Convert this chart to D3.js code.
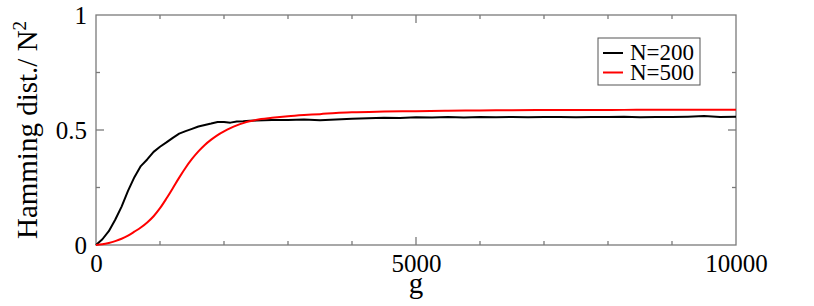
<!DOCTYPE html>
<html>
<head>
<meta charset="utf-8">
<script src="https://cdn.jsdelivr.net/npm/d3@7"></script>
<style>
  body { margin: 0; background: #fff; }
  svg text { font-family: "Liberation Serif", "Times New Roman", Times, serif; }
</style>
</head>
<body>
<script>
// series
var gen200 = [0, 100, 200, 300, 400, 500, 600, 700, 800, 900, 1000, 1100, 1200, 1300, 1400, 1500,
  1600, 1700, 1800, 1900, 2000, 2100, 2200, 2300, 2400, 2500, 2750, 3000, 3250, 3500, 3750, 4000,
  4250, 4500, 4750, 5000, 5250, 5500, 5750, 6000, 6250, 6500, 6750, 7000, 7250, 7500, 7750, 8000,
  8250, 8500, 8750, 9000, 9250, 9500, 9750, 10000];
var ham200 = [0, 0.025, 0.06, 0.11, 0.167, 0.235, 0.295, 0.343, 0.372, 0.405, 0.427, 0.446, 0.466, 0.484, 0.495, 0.505,
  0.515, 0.522, 0.528, 0.535, 0.535, 0.532, 0.537, 0.538, 0.540, 0.541, 0.543, 0.544, 0.546, 0.542, 0.546, 0.549,
  0.551, 0.553, 0.552, 0.555, 0.554, 0.556, 0.554, 0.556, 0.555, 0.557, 0.555, 0.556, 0.557, 0.555, 0.557, 0.556,
  0.558, 0.555, 0.557, 0.556, 0.558, 0.561, 0.557, 0.558];

var gen500 = [0, 100, 200, 300, 400, 500, 600, 700, 800, 900, 1000, 1100, 1200, 1300, 1400, 1500,
  1600, 1700, 1800, 1900, 2000, 2100, 2200, 2300, 2400, 2500, 2750, 3000, 3250, 3500, 3750, 4000,
  4500, 5000, 5500, 6000, 6500, 7000, 7500, 8000, 8500, 9000, 9500, 10000];
var ham500 = [0, 0.003, 0.009, 0.017, 0.027, 0.041, 0.058, 0.076, 0.098, 0.125, 0.16, 0.202, 0.247, 0.293, 0.336, 0.374,
  0.407, 0.435, 0.458, 0.478, 0.494, 0.508, 0.52, 0.53, 0.538, 0.544, 0.553, 0.56, 0.565, 0.569, 0.574, 0.577,
  0.58, 0.582, 0.584, 0.585, 0.586, 0.587, 0.587, 0.587, 0.588, 0.588, 0.588, 0.588];

var xTicks = [0, 5000, 10000];
var yTicks = [0, 0.5, 1];
var legendLabels = ["N=200", "N=500"];
var colors = ["#000000", "#ff0000"];

var W = 814, H = 306;
var margin = {top: 15, right: 78, bottom: 61, left: 96};
var width = W - margin.left - margin.right;
var height = H - margin.top - margin.bottom;
var frameColor = "#7a7a7a";
var serif = '"Liberation Serif", "Times New Roman", Times, serif';

var svg = d3.select("body").append("svg")
    .attr("width", W)
    .attr("height", H)
    .attr("font-family", serif);

var g = svg.append("g")
    .attr("transform", "translate(" + margin.left + "," + margin.top + ")");

var xScale = d3.scaleLinear().domain([0, 10000]).range([0, width]);
var yScale = d3.scaleLinear().domain([0, 1]).range([height, 0]);

// ticks inside the frame, major and minor
var frame = g.append("g").attr("stroke", frameColor).attr("stroke-width", 1.3);
function tickLines(vals, len, horizontal) {
  vals.forEach(function(v) {
    if (horizontal) {
      frame.append("line").attr("x1", xScale(v)).attr("x2", xScale(v))
        .attr("y1", height).attr("y2", height - len);
      frame.append("line").attr("x1", xScale(v)).attr("x2", xScale(v))
        .attr("y1", 0).attr("y2", len);
    } else {
      frame.append("line").attr("x1", 0).attr("x2", len)
        .attr("y1", yScale(v)).attr("y2", yScale(v));
      frame.append("line").attr("x1", width).attr("x2", width - len)
        .attr("y1", yScale(v)).attr("y2", yScale(v));
    }
  });
}
tickLines(d3.range(1000, 10000, 1000).filter(function(d) { return d % 5000; }), 4, true);
tickLines([5000], 8, true);
tickLines([0.25, 0.75], 4, false);
tickLines([0.5], 8, false);

frame.append("rect")
  .attr("width", width).attr("height", height)
  .attr("fill", "none");

var xAxis = d3.axisBottom(xScale).tickValues(xTicks).tickSize(0).tickPadding(9).tickFormat(d3.format("d"));
var yAxis = d3.axisLeft(yScale).tickValues(yTicks).tickSize(0).tickPadding(9).tickFormat(function(d) { return d; });

var gx = g.append("g").attr("transform", "translate(0," + height + ")").call(xAxis);
var gy = g.append("g").call(yAxis);
[gx, gy].forEach(function(ax) {
  ax.attr("font-family", serif);
  ax.select(".domain").remove();
  ax.selectAll("text").attr("font-size", 25).attr("fill", "#000");
});

// series
var line = d3.line()
  .x(function(d) { return xScale(d[0]); })
  .y(function(d) { return yScale(d[1]); });

var series = [d3.zip(gen200, ham200), d3.zip(gen500, ham500)];
series.forEach(function(s, i) {
  g.append("path")
    .datum(s)
    .attr("fill", "none")
    .attr("stroke", colors[i])
    .attr("stroke-width", 2)
    .attr("stroke-linejoin", "round")
    .attr("d", i === 1 ? line.curve(d3.curveMonotoneX)(s) : line.curve(d3.curveLinear)(s));
});

// axis titles
svg.append("text")
  .attr("x", margin.left + width / 2).attr("y", 293)
  .attr("text-anchor", "middle").attr("font-size", 29)
  .text("g");

var yl = svg.append("text")
  .attr("transform", "translate(37," + (margin.top + height / 2) + ") rotate(-90)")
  .attr("text-anchor", "middle").attr("font-size", 29);
yl.append("tspan").text("Hamming dist./ N");
yl.append("tspan").attr("dy", -11).attr("font-size", 19).text("2");

// legend
var lg = svg.append("g").attr("transform", "translate(598,38)");
lg.append("rect").attr("width", 102).attr("height", 47)
  .attr("fill", "#fff").attr("stroke", "#555").attr("stroke-width", 1);
legendLabels.forEach(function(lab, i) {
  var y = 15 + i * 19.5;
  lg.append("line").attr("x1", 5).attr("x2", 25).attr("y1", y).attr("y2", y)
    .attr("stroke", colors[i]).attr("stroke-width", 2);
  lg.append("text").attr("x", 32).attr("y", y + 7)
    .attr("font-size", 23).text(lab);
});
</script>
</body>
</html>
